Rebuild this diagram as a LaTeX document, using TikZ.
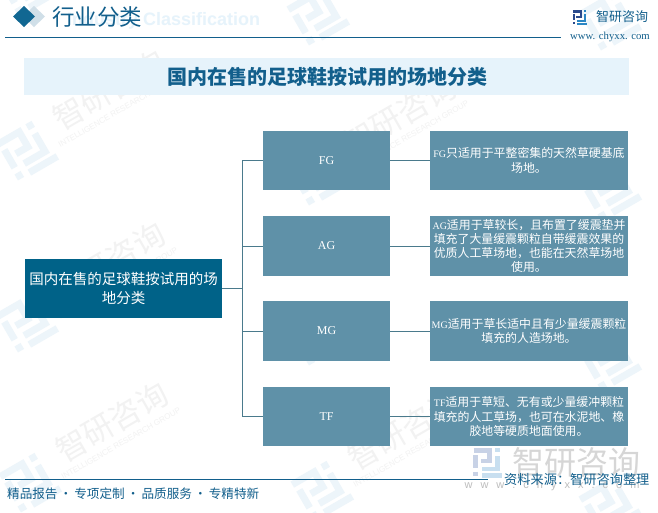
\documentclass[tikz,border=0pt]{standalone}
\usepackage{fontspec}
\setmainfont{Noto Sans CJK SC}
\newfontfamily\latinfont{Liberation Serif}
\newfontfamily\sansfont{Liberation Sans}
\usepackage{xcolor}
\definecolor{headblue}{HTML}{125F8C}
\definecolor{bandblue}{HTML}{E6F3FB}
\definecolor{rootblue}{HTML}{006288}
\definecolor{keyblue}{HTML}{5F91A8}
\definecolor{linkblue}{HTML}{4A7A8C}
\definecolor{markblue}{HTML}{EDF5FA}
\definecolor{markgrey}{HTML}{F2F2F2}
\definecolor{logodark}{HTML}{2B4A8C}
\definecolor{logolight}{HTML}{2A86C4}
\definecolor{bigleft}{HTML}{C8D2E6}
\definecolor{bigright}{HTML}{C8DFF0}
\newcommand{\keytag}[1]{{\latinfont\fontsize{10}{12}\selectfont #1}}
\newcommand{\sitegap}{\hspace{8pt}}
% logo: left colour, right colour, stroke width
\newcommand{\logomark}[3]{
    \draw[#1,line width=#3] (-20,-17) -- (2,-17) -- (2,-2) -- (-10,-2);
    \draw[#1,line width=#3] (-17,-10) -- (-17,8);
    \draw[#1,line width=#3] (-17,13) -- (-17,19);
    \draw[#2,line width=#3] (13,-20) -- (13,-14);
    \draw[#2,line width=#3] (13,-9) -- (13,9) -- (-8,9);
    \draw[#2,line width=#3] (-8,18) -- (20,18);
}
\begin{document}
\begin{tikzpicture}[x=1pt,y=-1pt]
        \tikzset{rootbox/.style={fill=rootblue,text=white,minimum width=197pt,minimum height=59pt,inner sep=0pt,align=center,font=\fontsize{14.5}{19}\selectfont},
            keybox/.style={fill=keyblue,text=white,minimum width=127pt,minimum height=59.5pt,inner sep=0pt,font=\latinfont\fontsize{12}{14}\selectfont},
            notebox/.style={fill=keyblue,text=white,minimum width=198pt,minimum height=59.5pt,inner sep=0pt,align=center,font=\fontsize{11.9}{14.3}\selectfont},
            linkline/.style={draw=linkblue,line width=1pt},
            headline/.style={draw=headblue,line width=0.9pt},
            marktext/.style={text=markgrey,font=\fontsize{31}{33}\selectfont,inner sep=0pt,transform shape},
            marksub/.style={text=markgrey,font=\sansfont\fontsize{8}{9}\selectfont,inner sep=0pt,transform shape}}
        \useasboundingbox (0,0) rectangle (658,512);
        \fill[white] (0,0) rectangle (658,512);
        % watermarks
        \foreach \mx/\my in {27/-15,318/15,318/335,610/20,610/190,610/360,610/505}{
            \begin{scope}[shift={(\mx,\my)},rotate=30,scale=1.15]
                \logomark{markblue}{markblue}{7pt}
            \end{scope}
        }
        \foreach \i/\mx/\my in {1/27/150,2/27/322,3/30/482,4/318/175,5/322/490}{
            \begin{scope}[shift={(\mx,\my)},rotate=30]
                \begin{scope}[scale=1.15]
                    \logomark{markblue}{markblue}{7pt}
                \end{scope}
                \node[marktext] (mark\i) at (101,-11) {智研咨询};
                \node[marksub] (marksub\i) at (98,12) {INTELLIGENCE RESEARCH GROUP};
            \end{scope}
        }
        % big source mark, lower right
        \begin{scope}[shift={(488,462.5)},scale=0.72]
            \logomark{bigleft}{bigright}{4.6pt}
        \end{scope}
        \node[text=black!16,font=\fontsize{32}{34}\selectfont,inner sep=0pt] (bigmark) at (576,462) {智研咨询};
        \node[text=black!26,font=\sansfont\fontsize{11}{12}\selectfont,inner sep=0pt] (bigsite) at (552,486) {w\sitegap w\sitegap w\sitegap .\sitegap c\sitegap h\sitegap y\sitegap x\sitegap x\sitegap .\sitegap c\sitegap o\sitegap m};
        % header
        \fill[fill=headblue!20] (34,6) -- (45,16.5) -- (34,27) -- (23,16.5) -- cycle;
        \fill[fill=headblue!95!cyan] (24,6) -- (35,16.5) -- (24,27) -- (13,16.5) -- cycle;
        \node[text=bandblue,font=\sansfont\bfseries\fontsize{18}{20}\selectfont,inner sep=0pt,anchor=west] (headeng) at (67,21) {Industry Classification};
        \node[text=headblue,font=\fontsize{22.5}{24}\selectfont,inner sep=0pt,anchor=west] (headtext) at (52,16.5) {行业分类};
        \draw[headline] (5,37.5) -- (561,37.5);
        \begin{scope}[shift={(580,17.5)},scale=0.36]
            \logomark{logodark}{logolight}{2.3pt}
        \end{scope}
        \node[text=headblue,font=\fontsize{13}{14}\selectfont,inner sep=0pt] (logotext) at (622,17) {智研咨询};
        \node[text=headblue,font=\latinfont\fontsize{10.7}{11}\selectfont,inner sep=0pt] (logosite) at (610,37) {www. chyxx. com};
        % title band
        \node[fill=bandblue,minimum width=605pt,minimum height=37pt,inner sep=0pt] (titleband) at (326.5,76.5) {};
        \node[text=headblue,inner sep=0pt,font=\bfseries\fontsize{20}{22}\selectfont] (titletext) at (327.5,76.5) {国内在售的足球鞋按试用的场地分类};
        % boxes
        \node[rootbox] (rootnode) at (123.5,288.5) {国内在售的足球鞋按试用的场\\地分类};
        \node[keybox] (fgkey) at (326.5,160.5) {FG};
        \node[keybox] (agkey) at (326.5,246) {AG};
        \node[keybox] (mgkey) at (326.5,331) {MG};
        \node[keybox] (tfkey) at (326.5,416.5) {TF};
        \node[notebox] (fgnote) at (529,160.5) {\keytag{FG}只适用于平整密集的天然草硬基底\\场地。};
        \node[notebox] (agnote) at (529,246) {\keytag{AG}适用于草较长，且布置了缓震垫并\\填充了大量缓震颗粒自带缓震效果的\\优质人工草场地，也能在天然草场地\\使用。};
        \node[notebox] (mgnote) at (529,331) {\keytag{MG}适用于草长适中且有少量缓震颗粒\\填充的人造场地。};
        \node[notebox] (tfnote) at (529,416.5) {\keytag{TF}适用于草短、无有或少量缓冲颗粒\\填充的人工草场，也可在水泥地、橡\\胶地等硬质地面使用。};
        % connectors
        \coordinate (trunk) at (242.5,288.5);
        \draw[linkline] (rootnode.east) -- (trunk);
        \draw[linkline] (trunk) |- (fgkey.west);
        \draw[linkline] (trunk) |- (agkey.west);
        \draw[linkline] (trunk) |- (mgkey.west);
        \draw[linkline] (trunk) |- (tfkey.west);
        \draw[linkline] (fgkey.east) -- (fgnote.west);
        \draw[linkline] (agkey.east) -- (agnote.west);
        \draw[linkline] (mgkey.east) -- (mgnote.west);
        \draw[linkline] (tfkey.east) -- (tfnote.west);
        % footer
        \draw[headline] (5,479.5) -- (488,479.5);
        \node[text=headblue,font=\fontsize{13.2}{14}\selectfont,inner sep=0pt,anchor=west] (sourcetext) at (504,480) {资料来源：智研咨询整理};
        \node[text=headblue,font=\fontsize{12.6}{14}\selectfont,inner sep=0pt,anchor=west] (slogan) at (7,494) {精品报告\,·\,专项定制\,·\,品质服务\,·\,专精特新};
    \end{tikzpicture}
\end{document}
